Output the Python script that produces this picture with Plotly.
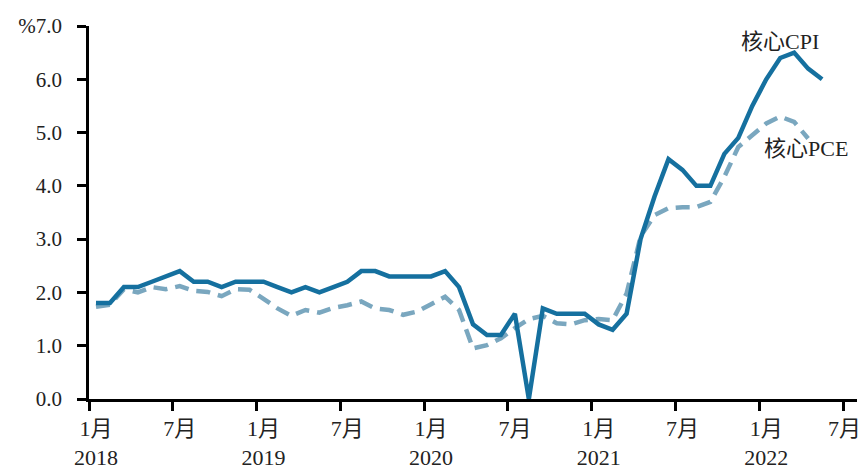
import plotly.graph_objects as go

# Monthly YoY, Jan 2018 .. May 2022 (core CPI) / Apr 2022 (core PCE)
core_cpi = [
    1.8, 1.8, 2.1, 2.1, 2.2, 2.3, 2.4, 2.2, 2.2, 2.1, 2.2, 2.2,
    2.2, 2.1, 2.0, 2.1, 2.0, 2.1, 2.2, 2.4, 2.4, 2.3, 2.3, 2.3,
    2.3, 2.4, 2.1, 1.4, 1.2, 1.2, 1.6, 0.0, 1.7, 1.6, 1.6, 1.6,
    1.4, 1.3, 1.6, 3.0, 3.8, 4.5, 4.3, 4.0, 4.0, 4.6, 4.9, 5.5,
    6.0, 6.4, 6.5, 6.2, 6.0,
]
core_pce = [
    1.73, 1.77, 2.06, 2.00, 2.10, 2.06, 2.12, 2.03, 2.01, 1.93, 2.06, 2.05,
    1.88, 1.70, 1.56, 1.67, 1.62, 1.71, 1.76, 1.83, 1.70, 1.67, 1.58, 1.64,
    1.78, 1.92, 1.67, 0.95, 1.01, 1.14, 1.33, 1.50, 1.56, 1.42, 1.40, 1.48,
    1.50, 1.48, 1.98, 3.05, 3.45, 3.58, 3.60, 3.60, 3.70, 4.17, 4.73, 4.95,
    5.17, 5.30, 5.20, 4.89,
]
years = ["2018", "2019", "2020", "2021", "2022"]
n_months = 55  # Jan 2018 .. Jul 2022 on the axis

y_ticks = [0, 1, 2, 3, 4, 5, 6, 7]
y_text = ["0.0", "1.0", "2.0", "3.0", "4.0", "5.0", "6.0", "%7.0"]

FONT = "Liberation Serif, 'Noto Sans CJK SC', serif"
CPI_COLOR = "#15709f"
PCE_COLOR = "#7aa7bf"

# category centres sit half a month right of the boundary ticks
x_cpi = [i + 0.5 for i in range(len(core_cpi))]
x_pce = [i + 0.5 for i in range(len(core_pce))]

# label positions: 1月 / 7月 of each year
lab_vals, lab_text = [], []
for k, yr in enumerate(years):
    lab_vals.append(12 * k + 0.5)
    lab_text.append(f"1月<br>{yr}")
    # last label is pulled in a little so it stays inside the page
    lab_vals.append(12 * k + (6.1 if k == len(years) - 1 else 6.5))
    lab_text.append("7月<br> ")

fig = go.Figure()
fig.add_trace(go.Scatter(
    x=x_pce, y=core_pce, mode="lines", name="核心PCE",
    line=dict(color=PCE_COLOR, width=4.5, dash="14px,8px"),
))
fig.add_trace(go.Scatter(
    x=x_cpi, y=core_cpi, mode="lines", name="核心CPI",
    line=dict(color=CPI_COLOR, width=4.5),
))

# series labels, placed beside the line ends
fig.add_annotation(x=49.5, y=6.7, text="核心CPI", showarrow=False,
                   font=dict(size=22, color="#222", family=FONT))
fig.add_annotation(x=48.2, y=4.71, text="核心PCE", showarrow=False,
                   xanchor="left",
                   font=dict(size=22, color="#222", family=FONT))

fig.update_xaxes(
    range=[0, n_months], showgrid=False, zeroline=False, automargin=False,
    showline=True, linecolor="black", linewidth=2.5,
    tickmode="array", tickvals=lab_vals, ticktext=lab_text, ticks="",
    ticklabelstandoff=8, ticklabeloverflow="allow",
    minor=dict(tickmode="linear", tick0=0, dtick=6, ticks="outside",
               ticklen=9, tickwidth=2.5, tickcolor="black", showgrid=False),
    tickfont=dict(size=22, color="#222", family=FONT),
)
fig.update_yaxes(
    range=[0, 7], showgrid=False, zeroline=False, automargin=False,
    showline=True, linecolor="black", linewidth=2.5,
    tickmode="array", tickvals=y_ticks, ticktext=y_text,
    ticks="outside", ticklen=9, tickwidth=2.5, tickcolor="black",
    ticklabelstandoff=11,
    tickfont=dict(size=21, color="#222", family=FONT),
)
# page body adds an 8px margin, so the figure is 8px smaller each way
fig.update_layout(
    width=859, height=462,
    margin=dict(l=81, r=10, t=18, b=71),
    plot_bgcolor="white", paper_bgcolor="white",
    showlegend=False,
)
fig.write_html("out.html")
